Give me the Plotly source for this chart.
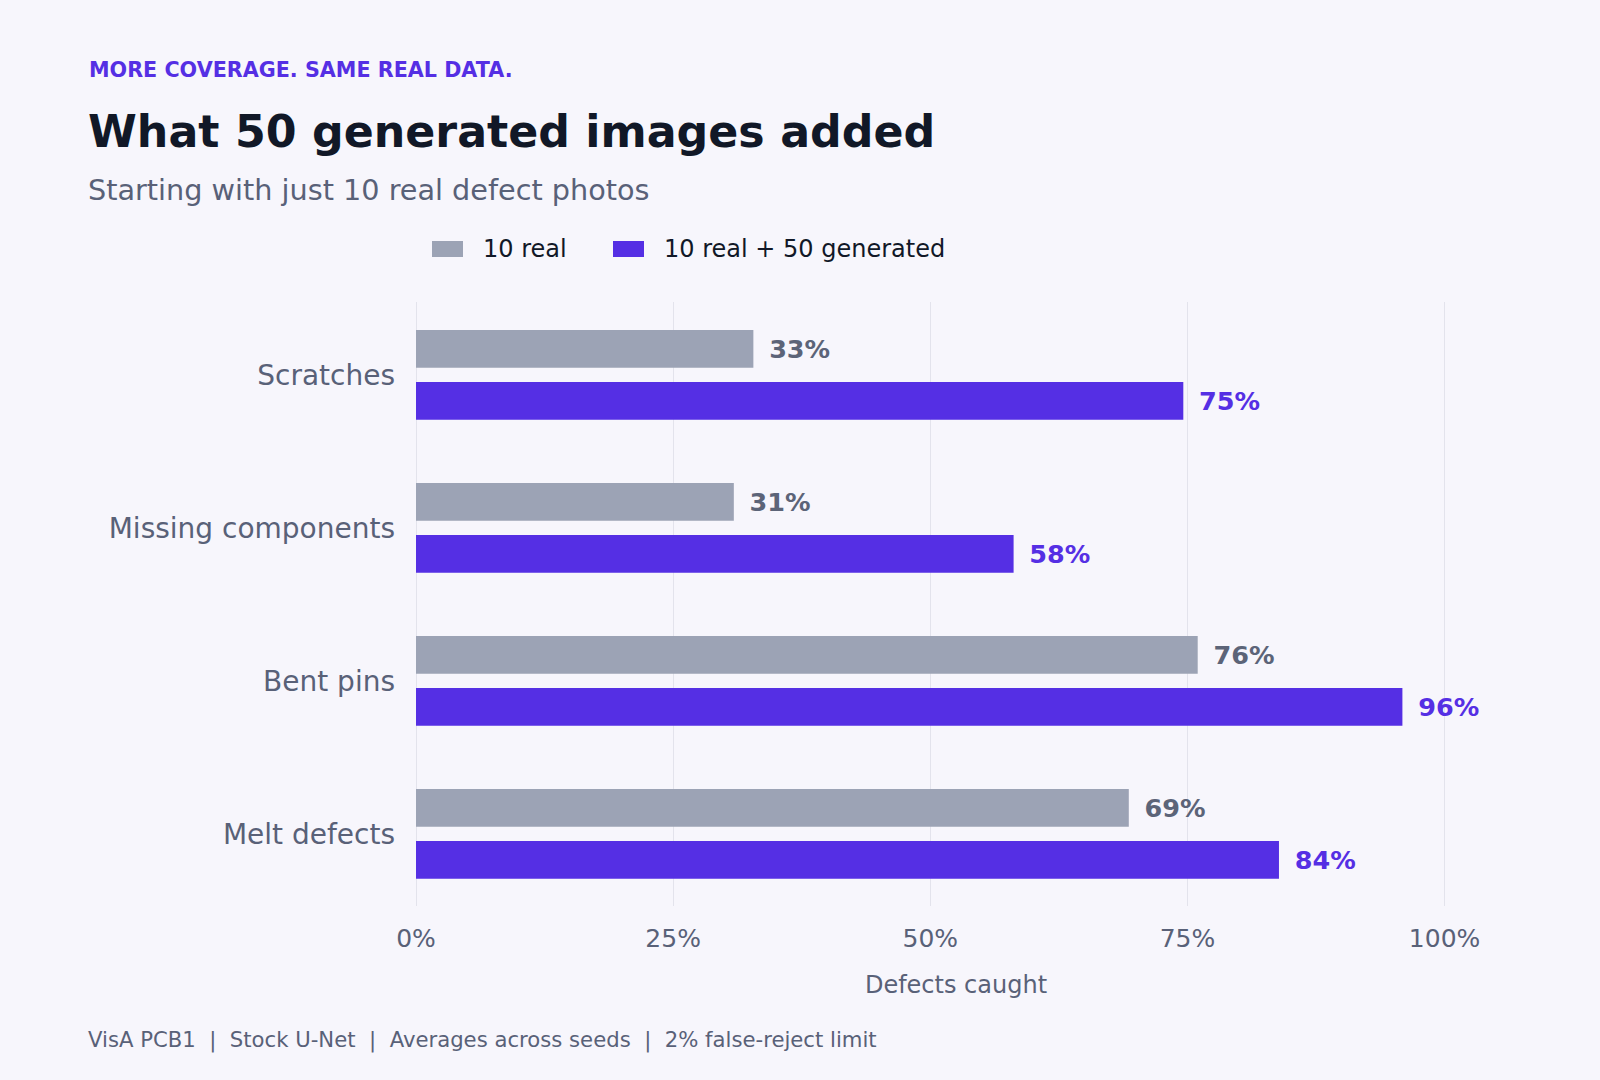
import plotly.graph_objects as go

# ---- data ----
categories = ["Scratches", "Missing components", "Bent pins", "Melt defects"]
real_only = [32.8, 30.9, 76.0, 69.3]
real_plus_gen = [74.6, 58.1, 95.9, 83.9]
series_names = ["10 real", "10 real + 50 generated"]
x_ticks = [0, 25, 50, 75, 100]
x_tick_labels = ["0%", "25%", "50%", "75%", "100%"]

kicker = "MORE COVERAGE. SAME REAL DATA."
title = "What 50 generated images added"
subtitle = "Starting with just 10 real defect photos"
x_title = "Defects caught"
footnote = "VisA PCB1\u00a0 |\u00a0 Stock U-Net\u00a0 |\u00a0 Averages across seeds\u00a0 |\u00a0 2% false-reject limit"

# ---- style ----
W, H = 1600, 1080
ML, MR, MT, MB = 416, 104, 302, 174
BG = "#F7F6FC"
GRAY = "#9CA3B5"
PURPLE = "#552FE4"
GRAY_TXT = "#5C6478"
MUTED = "#596178"
DARK = "#111827"
GRID = "#E3E3EC"
FONT = "DejaVu Sans"


def pxx(x):
    return (x - ML) / (W - ML - MR)


def pxy(y):
    return (H - MB - y) / (H - MT - MB)


BAR_W = 0.246
colors = [GRAY, PURPLE]
txt_colors = [GRAY_TXT, PURPLE]
offsets = [-0.293, 0.047]

fig = go.Figure()
for name, vals, c, tc, off in zip(series_names, [real_only, real_plus_gen], colors, txt_colors, offsets):
    fig.add_trace(go.Bar(
        name=name,
        x=vals,
        y=categories,
        orientation="h",
        marker=dict(color=c, line=dict(width=0)),
        width=BAR_W,
        offset=off,
        texttemplate="\u2002%{x:.0f}%",
        textposition="outside",
        textfont=dict(family=FONT, size=25.5, color=tc, weight="bold"),
        constraintext="none",
        cliponaxis=False,
        hoverinfo="skip",
        showlegend=False,
    ))

annotations = [
    dict(text=kicker, x=pxx(87), y=pxy(70), xanchor="left", yanchor="middle",
         font=dict(family=FONT, size=20.7, color=PURPLE, weight="bold")),
    dict(text=title, x=pxx(86), y=pxy(131), xanchor="left", yanchor="middle",
         font=dict(family=FONT, size=44.3, color=DARK, weight="bold")),
    dict(text=subtitle, x=pxx(86), y=pxy(190.5), xanchor="left", yanchor="middle",
         font=dict(family=FONT, size=28.7, color=MUTED)),
    dict(text=footnote, x=pxx(86), y=pxy(1040), xanchor="left", yanchor="middle",
         font=dict(family=FONT, size=21.2, color=MUTED)),
]

# custom legend: swatches + labels
shapes = []
legend_items = [(432, 482.7), (613, 663.6)]
for (sx, tx), name, c in zip(legend_items, series_names, colors):
    shapes.append(dict(type="rect", xref="paper", yref="paper",
                       x0=pxx(sx), x1=pxx(sx + 31), y0=pxy(257), y1=pxy(241),
                       fillcolor=c, line=dict(width=0), layer="above"))
    annotations.append(dict(text=name, x=pxx(tx - 2), y=pxy(249), xanchor="left", yanchor="middle",
                            font=dict(family=FONT, size=24, color=DARK)))

for a in annotations:
    a.update(xref="paper", yref="paper", showarrow=False)

fig.update_layout(
    width=W, height=H,
    margin=dict(l=ML, r=MR, t=MT, b=MB, autoexpand=False),
    paper_bgcolor=BG, plot_bgcolor=BG,
    font=dict(family=FONT, color=MUTED),
    barmode="group",
    showlegend=False,
    annotations=annotations,
    shapes=shapes,
    xaxis=dict(
        range=[0, 105],
        tickvals=x_ticks, ticktext=x_tick_labels,
        tickfont=dict(family=FONT, size=25, color=MUTED),
        showgrid=True, gridcolor=GRID, gridwidth=1,
        zeroline=True, zerolinecolor=GRID, zerolinewidth=1,
        showline=False, ticks="", ticklabelstandoff=15,
        title=dict(text=x_title, font=dict(family=FONT, size=24, color=MUTED), standoff=24),
        fixedrange=True,
    ),
    yaxis=dict(
        type="category",
        categoryorder="array", categoryarray=categories,
        range=[3.471, -0.476],
        tickfont=dict(family=FONT, size=28, color=MUTED),
        showgrid=False, zeroline=False, showline=False, ticks="",
        ticklabelstandoff=20,
        fixedrange=True,
    ),
)

fig.write_html(
    "out.html",
    config={"displayModeBar": False},
    post_script="document.body.style.margin='0';document.body.style.background='" + BG + "';",
)
